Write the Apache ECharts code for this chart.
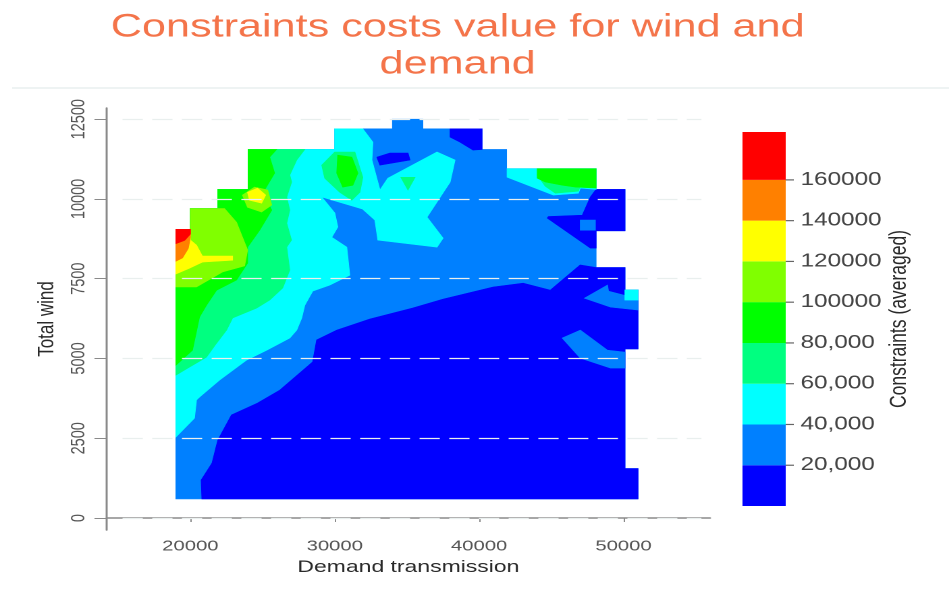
<!DOCTYPE html>
<html>
<head>
<meta charset="utf-8">
<script src="https://cdn.jsdelivr.net/npm/echarts@6/dist/echarts.min.js"></script>
<style>
  html, body { margin: 0; padding: 0; background: #ffffff; overflow: hidden; }
  #wrap { width: 949px; height: 589px; overflow: hidden; }
  /* the chart is laid out on a narrower canvas and widened horizontally */
  #chart { width: 703px; height: 589px; transform: scaleX(1.35); transform-origin: 0 0; }
</style>
</head>
<body>
<div id="wrap"><div id="chart"></div></div>
<script>
// ---- axis ticks ----
const demandTicks = [20000, 30000, 40000, 50000];
const windTicks = [0, 2500, 5000, 7500, 10000, 12500];

// ---- contour levels (constraints cost, averaged) ----
const levelBreaks = [0, 20000, 40000, 60000, 80000, 100000, 120000, 140000, 160000, 183500];
const levelTicks = [20000, 40000, 60000, 80000, 100000, 120000, 140000, 160000];
const levelLabels = ['20,000', '40,000', '60,000', '80,000', '100000', '120000', '140000', '160000'];
const levelColors = ['#0000ff', '#0080ff', '#00ffff', '#00ff80', '#00ff00', '#80ff00', '#ffff00', '#ff8000', '#ff0000'];

// ---- contour regions: [demand, wind] outlines ----
const observedArea = [[19000,600],[19000,9050],[20000,9050],[20000,9700],[21900,9700],[21900,10300],[24000,10300],[24000,11550],[30000,11550],[30000,12200],[34000,12200],[34000,12500],[36100,12500],[36100,12200],[40200,12200],[40200,11550],[41900,11550],[41900,10950],[48100,10950],[48100,10300],[50100,10300],[50100,9000],[48100,9000],[48100,7850],[50100,7850],[50100,7150],[51000,7150],[51000,5300],[50100,5300],[50100,1550],[51000,1550],[51000,600]];
const lowCostMain = [[20800,600],[20750,1190],[21500,1720],[21900,2440],[22850,3230],[24650,3600],[26200,4010],[28470,4890],[28750,5580],[30140,5890],[32430,6235],[35400,6580],[37500,6860],[40970,7240],[43050,7360],[44930,7140],[47000,7930],[48100,7850],[50100,7850],[50100,7150],[51000,7150],[51000,5300],[50100,5300],[50100,1550],[51000,1550],[51000,600]];
const midWedgeUpper = [[47290,6890],[48890,7300],[48960,7110],[50000,6990],[51000,6830],[51000,6520],[49100,6610]];
const cyanCorner = [[50100,7150],[51000,7150],[51000,6830],[50100,6830]];
const midWedgeLower = [[45760,5640],[47010,5890],[48890,5260],[50100,5200],[50100,4700],[49100,4700],[47010,5010]];
const lowCostEast = [[48100,10300],[50100,10300],[50100,9000],[48100,9000],[48100,8460],[47710,8460],[44720,9400],[44800,9450],[47150,9490],[47710,10060]];
const midPocketEast = [[47010,9340],[48050,9340],[48050,9020],[47010,9020]];
const lowCostTop = [[37990,12200],[40200,12200],[40200,11550],[39580,11530],[38680,11780],[37990,11940]];
const lowCostBar = [[32920,11310],[33820,11440],[35070,11440],[35210,11220],[33130,11060]];
const cyanMain = [[19000,2540],[19000,9050],[20000,9050],[20000,9700],[21900,9700],[21900,10300],[24000,10300],[24000,11550],[30000,11550],[30000,12200],[31940,12200],[32640,11780],[32570,11220],[33130,10280],[33680,10650],[37080,11470],[38330,11220],[37990,10530],[36390,9430],[37500,8770],[37080,8490],[32990,8710],[32780,9340],[31940,9680],[29100,10060],[30000,9560],[30210,9120],[29790,8800],[30830,8490],[31040,7610],[29650,7300],[28470,7110],[27920,6670],[27710,6270],[27360,5890],[26880,5640],[25280,5260],[23890,4950],[22010,4320],[20630,3790],[20420,3700],[20280,3130]];
const springMain = [[19000,4480],[19000,9050],[20000,9050],[20000,9700],[21900,9700],[21900,10300],[24000,10300],[24000,11550],[27920,11550],[27360,11220],[26880,10750],[27010,10530],[26670,10060],[26880,9650],[26670,9240],[27000,8710],[26670,8490],[26880,7770],[26390,7210],[25490,6830],[24580,6580],[22920,6270],[22500,5890],[21810,5480],[21110,5040],[19930,4730]];
const greenMain = [[19000,4790],[19000,9050],[20000,9050],[20000,9700],[21900,9700],[21900,10300],[24000,10300],[24000,11550],[25970,11550],[25490,11310],[25830,10810],[25000,10180],[25630,9650],[24790,9020],[23960,8490],[23960,7990],[23190,7460],[21810,7140],[21110,6670],[20630,6300],[20140,5260]];
const chartreuseMain = [[19000,7240],[19000,9050],[20000,9050],[20000,9700],[22360,9700],[23190,9270],[23960,8400],[23750,7900],[22220,7710],[20420,7240]];
const chartreuseSpot = [[23610,10120],[24440,10370],[25350,10280],[25630,9810],[24930,9590],[23960,9740]];
const yellowSpot = [[23960,10210],[24650,10340],[25210,10120],[24930,9870],[24100,9960]];
const yellowMain = [[19000,7650],[19000,9050],[20000,9050],[20000,8710],[20420,8550],[20830,8210],[22920,8210],[22920,8080],[20830,8020],[19930,7830]];
const orangeMain = [[19000,8050],[19000,9050],[20000,9050],[20000,8800],[19850,8450],[19450,8150]];
const redMain = [[19000,8600],[19000,9050],[20000,9050],[20000,8900],[19600,8700]];
const springIsland = [[29100,11060],[30000,11470],[31390,11470],[31940,10680],[31740,10210],[31180,9960],[30350,10210],[29310,10650]];
const greenIsland = [[30210,11370],[31180,11310],[31600,10810],[31250,10430],[30560,10370],[30140,10810]];
const springSpeck = [[34580,10680],[35560,10680],[35070,10280]];
const cyanStrip = [[41940,10950],[48100,10950],[48100,10300],[47010,10340],[46870,10180],[45140,10120],[41940,10680]];
const springStrip = [[44030,10750],[45630,10590],[47010,10400],[46870,10240],[45280,10180],[44580,10400]];
const greenStrip = [[44030,10950],[48100,10950],[48100,10340],[46670,10370],[45760,10430],[44580,10530],[44030,10650]];

// drawing order: lower levels first, higher levels painted over them
const regions = [
  { level: 1, path: observedArea },
  { level: 0, path: lowCostMain },
  { level: 1, path: midWedgeUpper },
  { level: 2, path: cyanCorner },
  { level: 1, path: midWedgeLower },
  { level: 0, path: lowCostEast },
  { level: 1, path: midPocketEast },
  { level: 0, path: lowCostTop },
  { level: 0, path: lowCostBar },
  { level: 2, path: cyanMain },
  { level: 3, path: springMain },
  { level: 4, path: greenMain },
  { level: 5, path: chartreuseMain },
  { level: 5, path: chartreuseSpot },
  { level: 6, path: yellowSpot },
  { level: 6, path: yellowMain },
  { level: 7, path: orangeMain },
  { level: 8, path: redMain },
  { level: 3, path: springIsland },
  { level: 4, path: greenIsland },
  { level: 3, path: springSpeck },
  { level: 2, path: cyanStrip },
  { level: 3, path: springStrip },
  { level: 4, path: greenStrip }
];

const FONT = '"Liberation Sans", Arial, sans-serif';
const plain = v => String(v);
const chart = echarts.init(document.getElementById('chart'), null, { renderer: 'canvas', devicePixelRatio: 2 });

const option = {
  backgroundColor: '#ffffff',
  animation: false,
  textStyle: { fontFamily: FONT },
  title: {
    text: 'Constraints costs value for wind and\ndemand',
    left: 334,
    top: 4,
    textAlign: 'center',
    textStyle: { fontFamily: FONT, fontSize: 32, lineHeight: 37, fontWeight: 'normal', color: '#f4744a' }
  },
  graphic: [
    { type: 'line', shape: { x1: 9, y1: 88, x2: 703, y2: 88 }, style: { stroke: '#eef3f3', lineWidth: 2 }, silent: true }
  ],
  grid: [
    { left: 79, top: 108, width: 447, height: 422 },
    { left: 550, top: 132, width: 32, height: 374 }
  ],
  xAxis: [
    {
      gridIndex: 0, type: 'value', min: 14200, max: 56000,
      axisLine: { show: true, lineStyle: { color: '#8a8a8a', width: 1.5 } },
      axisTick: { show: true, customValues: demandTicks, length: 4, lineStyle: { color: '#8a8a8a' } },
      axisLabel: { customValues: demandTicks, formatter: plain, fontSize: 15, color: '#555555', margin: 9, fontFamily: FONT },
      splitLine: { show: false },
      name: 'Demand transmission', nameLocation: 'middle', nameGap: 26,
      nameTextStyle: { fontSize: 17, color: '#2a2a2a', fontFamily: FONT }
    },
    { gridIndex: 1, type: 'value', min: 0, max: 1, show: false }
  ],
  yAxis: [
    {
      gridIndex: 0, type: 'value', min: -375, max: 12850,
      axisLine: { show: true, lineStyle: { color: '#8a8a8a', width: 1.5 } },
      axisTick: { show: true, customValues: windTicks, length: 9, lineStyle: { color: '#8a8a8a' } },
      axisLabel: { customValues: windTicks, formatter: plain, rotate: 90, fontSize: 14.5, color: '#555555', margin: 13, fontFamily: FONT },
      splitLine: { show: false },
      name: 'Total wind', nameLocation: 'middle', nameGap: 26, nameRotate: 90,
      nameTextStyle: { fontSize: 17, color: '#2a2a2a', fontFamily: FONT }
    },
    {
      gridIndex: 1, type: 'value', min: 0, max: levelBreaks[levelBreaks.length - 1], position: 'right',
      axisLine: { show: false },
      axisTick: { show: false },
      axisLabel: {
        customValues: levelTicks, fontSize: 18, color: '#444444', margin: 11, fontFamily: FONT,
        formatter: v => levelLabels[levelTicks.indexOf(v)] || ''
      },
      splitLine: { show: false },
      name: 'Constraints (averaged)', nameLocation: 'middle', nameGap: 74, nameRotate: 90,
      nameTextStyle: { fontSize: 17.5, color: '#2a2a2a', fontFamily: FONT }
    }
  ],
  series: [
    {
      // faint dashed reference lines at the wind ticks
      type: 'line', xAxisIndex: 0, yAxisIndex: 0, data: [], z: 1, silent: true,
      markLine: {
        silent: true, symbol: 'none', label: { show: false },
        lineStyle: { color: '#e9efee', width: 1.2, type: [15, 7] },
        data: windTicks.map(v => [{ coord: [15300, v] }, { coord: [55400, v] }])
      }
    },
    {
      type: 'custom', xAxisIndex: 0, yAxisIndex: 0, z: 2, silent: true,
      data: regions.map((r, i) => [i, r.level]),
      encode: { x: -1, y: -1 },
      renderItem: function (params, api) {
        const r = regions[params.dataIndex];
        const pts = r.path.map(p => api.coord(p));
        return {
          type: 'polygon',
          shape: { points: pts },
          style: { fill: levelColors[r.level], stroke: levelColors[r.level], lineWidth: 0.6 }
        };
      }
    },
    {
      // colour bar bands
      type: 'custom', xAxisIndex: 1, yAxisIndex: 1, z: 2, silent: true,
      data: levelBreaks.slice(0, -1).map((lo, i) => [0, lo, levelBreaks[i + 1], i]),
      encode: { x: 0, y: [1, 2] },
      renderItem: function (params, api) {
        const lo = api.value(1), hi = api.value(2), idx = api.value(3);
        const a = api.coord([0, hi]);
        const b = api.coord([1, lo]);
        return {
          type: 'rect',
          shape: { x: a[0], y: a[1], width: b[0] - a[0], height: b[1] - a[1] },
          style: { fill: levelColors[idx] }
        };
      }
    },
    {
      // colour bar tick marks at each labelled break
      type: 'custom', xAxisIndex: 1, yAxisIndex: 1, z: 3, silent: true,
      data: levelTicks.map(v => [1, v]),
      encode: { x: 0, y: 1 },
      renderItem: function (params, api) {
        const p = api.coord([1, api.value(1)]);
        return {
          type: 'line',
          shape: { x1: p[0], y1: p[1], x2: p[0] + 6, y2: p[1] },
          style: { stroke: '#666666', lineWidth: 1.2 }
        };
      }
    }
  ]
};
chart.setOption(option);
</script>
</body>
</html>
